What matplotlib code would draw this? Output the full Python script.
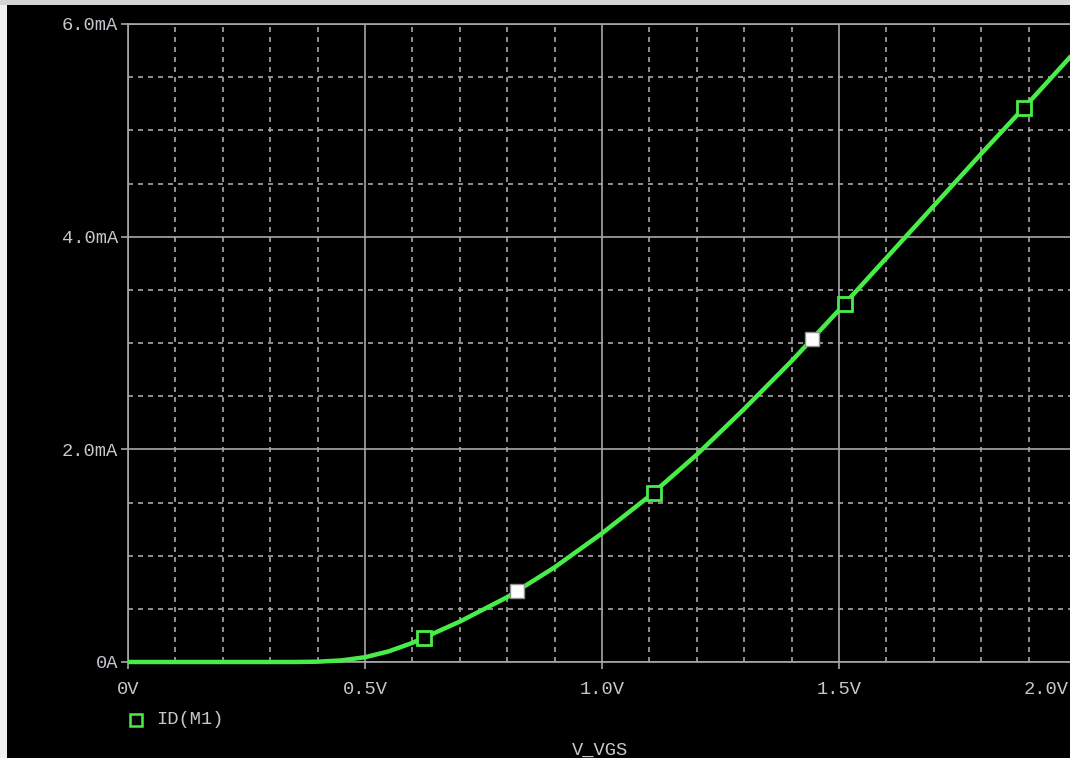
import matplotlib
matplotlib.use('Agg')
from matplotlib import pyplot, ticker
from matplotlib.lines import Line2D
from matplotlib.patches import Rectangle

# fmt: off
# Sweep of V_VGS (V) and drain current ID(M1) (mA)
vgs = [0.0, 0.1, 0.2, 0.3, 0.35, 0.4, 0.45, 0.5, 0.55, 0.6, 0.7, 0.8, 0.9, 1.0,
       1.1, 1.2, 1.3, 1.4, 1.5, 1.6, 1.7, 1.8, 1.9, 2.0]
id_m1 = [0.0, 0.0, 0.0, 0.0, 0.0, 0.003, 0.015, 0.045, 0.10, 0.18, 0.38, 0.61, 0.89, 1.21,
         1.56, 1.95, 2.38, 2.83, 3.31, 3.80, 4.29, 4.78, 5.26, 5.75]

# Trace symbols and the two cursor positions
marker_v = [0.624, 1.11, 1.513, 1.89]
marker_i = [0.225, 1.59, 3.37, 5.21]
cursor_v = [0.821, 1.443]
cursor_i = [0.665, 3.04]

x_ticks = [0.0, 0.5, 1.0, 1.5]
x_labels = ['0V', '0.5V', '1.0V', '1.5V']
last_x_label = '2.0V'   # PSpice pulls this one inside the window
y_ticks = [0.0, 2.0, 4.0, 6.0]
y_labels = ['0A', '2.0mA', '4.0mA', '6.0mA']

_BG = 'black'
_GREEN = '#48ee48'
_GRID = '#a8a8a8'
_TEXT = '#c4c8cc'
_FONT = 'Liberation Mono'
_FS = 13.5

W, H = 1070, 758
fig = pyplot.figure(figsize=(W / 100, H / 100), dpi=100, facecolor=_BG)

# axes box in pixels: x from 128 to right edge, y from 24 (6mA) to 662 (0A)
left, right, top, bottom = 128, 1070, 24, 662
ax = fig.add_axes([left / W, (H - bottom) / H, (right - left) / W, (bottom - top) / H])
ax.set_facecolor(_BG)
ax.set_xlim(0, (right - left) / 474)
ax.set_ylim(0, 6.0)

ax.xaxis.set_major_locator(ticker.FixedLocator(x_ticks))
ax.xaxis.set_minor_locator(ticker.MultipleLocator(0.1))
ax.yaxis.set_major_locator(ticker.FixedLocator(y_ticks))
ax.yaxis.set_minor_locator(ticker.MultipleLocator(0.5))
ax.set_xticklabels(x_labels)
ax.set_yticklabels(y_labels)

ax.grid(which='major', color=_GRID, linewidth=1.2, linestyle='-')
ax.grid(which='minor', color=_GRID, linewidth=1.2, linestyle=(0, (3, 3)))
ax.set_axisbelow(True)

ax.tick_params(which='major', direction='out', length=5, width=1.2, color=_GRID,
               labelcolor=_TEXT, labelsize=_FS)
ax.tick_params(axis='y', pad=2)
ax.tick_params(axis='x', pad=9)
ax.tick_params(which='minor', length=0)
for lab in ax.get_xticklabels() + ax.get_yticklabels():
    lab.set_fontfamily(_FONT)

for side in ('left', 'bottom', 'top'):
    ax.spines[side].set_color(_GRID)
    ax.spines[side].set_linewidth(1.2)
ax.spines['right'].set_visible(False)

ax.plot(vgs, id_m1, color=_GREEN, linewidth=3.2, solid_capstyle='butt', zorder=3, clip_on=False)
ax.plot(marker_v, marker_i, linestyle='none', marker='s', markersize=9.5,
        markerfacecolor=_BG, markeredgecolor=_GREEN, markeredgewidth=2, zorder=4)
ax.plot(cursor_v, cursor_i, linestyle='none', marker='s', markersize=9.5,
        markerfacecolor='white', markeredgecolor='#909090', markeredgewidth=1, zorder=5)

fig.text(1024 / W, 1 - 690 / H, last_x_label, color=_TEXT, fontsize=_FS, family=_FONT,
         ha='left', va='center')

# legend entry and x-axis name under the plot
fig.add_artist(Line2D([136 / W], [1 - 720 / H], transform=fig.transFigure, linestyle='none',
                      marker='s', markersize=8, markerfacecolor=_BG,
                      markeredgecolor=_GREEN, markeredgewidth=1.8))
fig.text(156 / W, 1 - 720 / H, 'ID(M1)', color=_TEXT, fontsize=_FS, family=_FONT,
         ha='left', va='center')
fig.text(600 / W, 1 - 750 / H, 'V_VGS', color=_TEXT, fontsize=_FS, family=_FONT,
         ha='center', va='center')

# window frame edges
fig.patches.append(Rectangle((0, 0), 7 / W, 1, transform=fig.transFigure,
                             facecolor='#f0f0f0', edgecolor='none', zorder=10))
fig.patches.append(Rectangle((0, 1 - 5 / H), 1, 5 / H, transform=fig.transFigure,
                             facecolor='#d4d4d4', edgecolor='none', zorder=10))

fig.savefig('out.png', dpi=100, facecolor=_BG)
# fmt: on
